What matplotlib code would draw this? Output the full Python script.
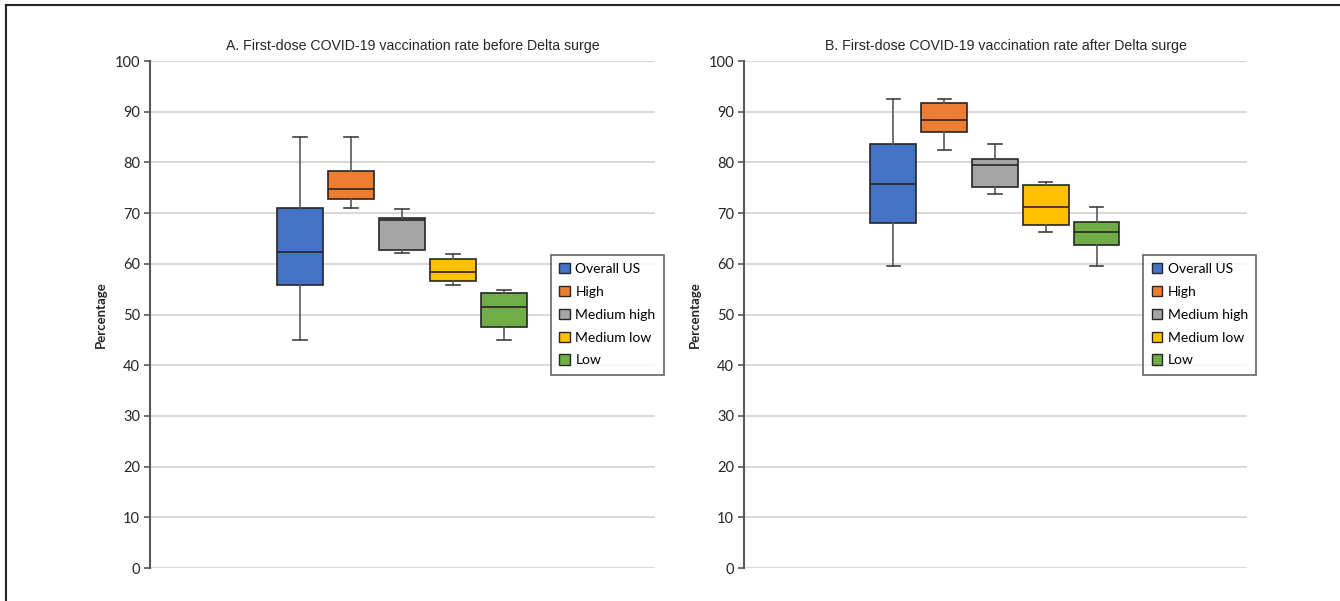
import matplotlib.pyplot as plt
from matplotlib.patches import Patch
from matplotlib.lines import Line2D

groups = ["Overall US", "High", "Medium high", "Medium low", "Low"]
colors = ["#4472C4", "#ED7D31", "#A5A5A5", "#FFC000", "#70AD47"]

# before Delta surge
before_whislo = [45.0, 71.1, 62.2, 55.8, 45.0]
before_q1 = [55.9, 72.8, 62.7, 56.7, 47.5]
before_med = [62.3, 74.7, 68.6, 58.3, 51.5]
before_q3 = [71.1, 78.4, 69.1, 60.9, 54.2]
before_whishi = [85.0, 85.0, 70.8, 61.9, 54.8]

# after Delta surge
after_whislo = [59.5, 82.5, 73.8, 66.2, 59.5]
after_q1 = [68.0, 85.9, 75.2, 67.7, 63.8]
after_med = [75.7, 88.3, 79.4, 71.2, 66.3]
after_q3 = [83.6, 91.7, 80.7, 75.5, 68.2]
after_whishi = [92.5, 92.5, 83.6, 76.2, 71.3]

titles = ["A. First-dose COVID-19 vaccination rate before Delta surge",
          "B. First-dose COVID-19 vaccination rate after Delta surge"]
yticks = [0, 10, 20, 30, 40, 50, 60, 70, 80, 90, 100]

label_font = ["Lato", "DejaVu Sans"]
title_font = ["Liberation Sans", "DejaVu Sans"]

fig = plt.figure(figsize=(13.4, 6.01), dpi=100)
ax1 = fig.add_axes([0.1119, 0.0549, 0.3769, 0.8436])
ax2 = fig.add_axes([0.5552, 0.0549, 0.3754, 0.8436])

datasets = [
    (before_whislo, before_q1, before_med, before_q3, before_whishi),
    (after_whislo, after_q1, after_med, after_q3, after_whishi),
]

for ax, data, title in zip([ax1, ax2], datasets, titles):
    lo, q1, med, q3, hi = data
    stats = []
    for i in range(len(groups)):
        stats.append({"whislo": lo[i], "q1": q1[i], "med": med[i],
                      "q3": q3[i], "whishi": hi[i], "fliers": [], "label": groups[i]})
    bp = ax.bxp(stats, positions=range(1, 6), widths=0.9, capwidths=0.26,
                patch_artist=True, showfliers=False, manage_ticks=False,
                boxprops=dict(edgecolor="#262626", linewidth=1.2),
                medianprops=dict(color="#262626", linewidth=1.2),
                whiskerprops=dict(color="#595959", linewidth=1.2),
                capprops=dict(color="#404040", linewidth=1.2), zorder=3)
    for box, c in zip(bp["boxes"], colors):
        box.set_facecolor(c)

    ax.set_xlim(-1.94, 7.96)
    ax.set_ylim(0, 100)
    ax.set_yticks(yticks)
    ax.set_xticks([])
    ax.grid(axis="y", color="#d9d9d9", linewidth=1.5, zorder=0)
    ax.set_axisbelow(True)
    for s in ["top", "right", "bottom"]:
        ax.spines[s].set_visible(False)
    ax.spines["left"].set_color("#595959")
    ax.spines["left"].set_linewidth(1.5)
    ax.tick_params(axis="y", direction="out", length=4, width=1.2, color="#595959",
                   pad=3, labelsize=10.5, labelcolor="#262626")
    for lab in ax.get_yticklabels():
        lab.set_family(label_font)
    ax.set_ylabel("Percentage", family=label_font, fontsize=9.5, fontweight="bold",
                  color="#262626", labelpad=6)
    ax.text(0.52, 1.021, title, transform=ax.transAxes, ha="center", va="baseline",
            family=title_font, fontsize=10.2, color="#262626")

    handles = [Patch(facecolor=c, edgecolor="#262626", linewidth=1.0, label=g)
               for c, g in zip(colors, groups)]
    leg = ax.legend(handles=handles, loc="upper left", bbox_to_anchor=(0.794, 0.618),
                    prop={"family": label_font, "size": 10}, frameon=True, fancybox=False,
                    edgecolor="#404040", handlelength=0.75, handleheight=0.75,
                    handletextpad=0.4, borderpad=0.6, labelspacing=0.78, borderaxespad=0)
    leg.get_frame().set_linewidth(1.2)
    leg.set_zorder(5)

# border of the figure (top and left edges visible)
fig.add_artist(Line2D([6 / 1340, 1.0], [1 - 5 / 601, 1 - 5 / 601], color="#262626",
                      linewidth=1.5, transform=fig.transFigure))
fig.add_artist(Line2D([6 / 1340, 6 / 1340], [0.0, 1 - 5 / 601], color="#262626",
                      linewidth=1.5, transform=fig.transFigure))

fig.savefig("out.png", dpi=100)
